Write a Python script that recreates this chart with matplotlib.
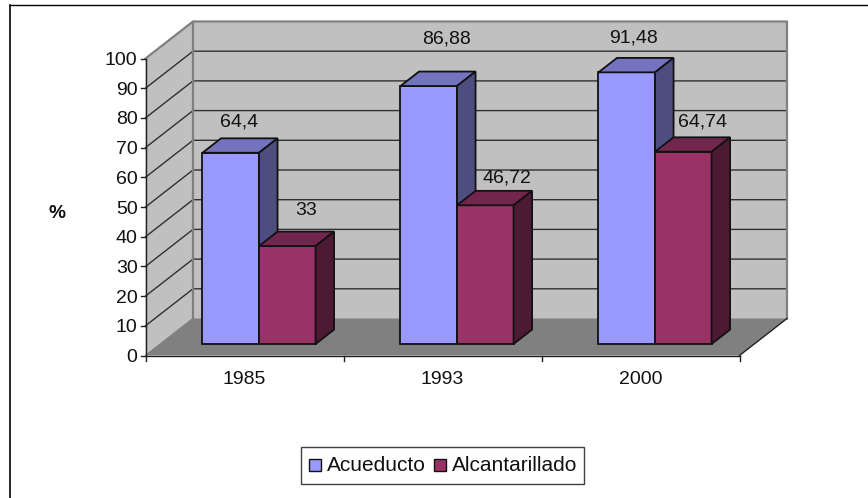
import numpy as np
import matplotlib
matplotlib.use('Agg')
import matplotlib.pyplot as plt
from matplotlib.patches import Polygon, Rectangle
from matplotlib.lines import Line2D

years = ['1985', '1993', '2000']
acueducto = [64.4, 86.88, 91.48]
alcantarillado = [33, 46.72, 64.74]
acueducto_labels = ['64,4', '86,88', '91,48']
alcantarillado_labels = ['33', '46,72', '64,74']
y_ticks = [0, 10, 20, 30, 40, 50, 60, 70, 80, 90, 100]

W, H = 868, 498
BLUE, BLUE_TOP, BLUE_SIDE = '#9999ff', '#7373bf', '#4d4d80'
RED, RED_TOP, RED_SIDE = '#993366', '#73264d', '#4d1a33'

plt.rcParams['font.family'] = ['Liberation Sans', 'DejaVu Sans']

fig = plt.figure(figsize=(W / 100, H / 100), dpi=100)
# axes = front plane of the fake 3d box
left, right, bottom, top = 145.5, 739.5, 355.5, 58.5
ax = fig.add_axes([left / W, 1 - bottom / H, (right - left) / W, (bottom - top) / H])
ax.set_xlim(0, 3)
ax.set_ylim(0, 100)
ax.axis('off')

px_x = (right - left) / 3
px_y = (bottom - top) / 100
# depth offsets, data units
DX = 47.5 / px_x
DY = 37 / px_y
bar_d0 = 0.31
bar_d1 = 0.70
bar_w = 0.2855
start = 0.2135


def pt(x, y, d=0.0):
    return (x + DX * d, y + DY * d)


def poly(pts, fc, ec='none', lw=0, z=1):
    ax.add_patch(Polygon(pts, closed=True, fc=fc, ec=ec, lw=lw, zorder=z, clip_on=False, joinstyle='miter'))


# walls and floor
poly([pt(0, 0, 1), pt(3, 0, 1), pt(3, 100, 1), pt(0, 100, 1)], '#c0c0c0', z=1)
poly([pt(0, 0), pt(0, 100), pt(0, 100, 1), pt(0, 0, 1)], '#c0c0c0', z=1)
poly([pt(0, 0), pt(3, 0), pt(3, 0, 1), pt(0, 0, 1)], '#808080', z=1)

for t in y_ticks[1:-1]:
    ax.plot(*zip(pt(0, t), pt(0, t, 1), pt(3, t, 1)), color='#303030', lw=1.0, zorder=2, clip_on=False)
# box outline
ax.plot(*zip(pt(0, 100), pt(0, 100, 1), pt(3, 100, 1), pt(3, 0, 1)), color='#808080', lw=1.6, zorder=2, clip_on=False)
ax.plot(*zip(pt(0, 0, 1), pt(0, 100, 1)), color='#808080', lw=1.6, zorder=2, clip_on=False)
ax.plot(*zip(pt(0, 0), pt(0, 0, 1)), color='#808080', lw=1.0, zorder=2, clip_on=False)
ax.plot(*zip(pt(3, 0), pt(3, 0, 1)), color='#202020', lw=1.0, zorder=2, clip_on=False)

# axis lines and ticks
ax.plot([0, 0], [0, 100], color='#202020', lw=1.0, zorder=6, clip_on=False)
ax.plot([0, 3], [0, 0], color='#202020', lw=1.0, zorder=6, clip_on=False)
tick_y = 5 / px_y
tick_x = 5 / px_x
for t in y_ticks:
    ax.plot([-tick_x, 0], [t, t], color='#202020', lw=1.0, zorder=6, clip_on=False)
    ax.text(-8 / px_x, t, str(t), ha='right', va='center_baseline', fontsize=14, color='#111111')
for i in range(4):
    ax.plot([i, i], [0, -tick_y], color='#202020', lw=1.0, zorder=6, clip_on=False)
for i, y in enumerate(years):
    ax.text(i + 0.5, -22 / px_y, y, ha='center', va='center_baseline', fontsize=14, color='#111111')

ax.text((57 - left) / px_x, (bottom - 211) / px_y, '%', ha='center', va='center_baseline', fontsize=13.8,
        fontweight='bold', color='#111111')


def draw_bar(x, v, fc, fc_top, fc_side, z):
    y0 = pt(0, 0, bar_d0)[1]
    xf = x + DX * bar_d0
    h = v
    w = bar_w
    dd = bar_d1 - bar_d0
    ddx, ddy = DX * dd, DY * dd
    ax.bar(xf, h, width=w, bottom=y0, align='edge', fc=fc, ec='#111111', lw=1.3, zorder=z, clip_on=False)
    poly([(xf, y0 + h), (xf + w, y0 + h), (xf + w + ddx, y0 + h + ddy), (xf + ddx, y0 + h + ddy)],
         fc_top, '#111111', 1.3, z)
    poly([(xf + w, y0), (xf + w + ddx, y0 + ddy), (xf + w + ddx, y0 + h + ddy), (xf + w, y0 + h)],
         fc_side, '#111111', 1.3, z)
    return xf, y0 + h


# label offsets from the bar's front top-left corner, pixels
off_acu = [(37, 33), (46, 49), (35, 36)]
off_alc = [(47, 38), (50, 29), (47, 32)]

for i in range(len(years)):
    x1 = i + start
    x2 = x1 + bar_w
    xa, ya = draw_bar(x1, acueducto[i], BLUE, BLUE_TOP, BLUE_SIDE, 3)
    xb, yb = draw_bar(x2, alcantarillado[i], RED, RED_TOP, RED_SIDE, 4)
    ax.text(xa + off_acu[i][0] / px_x, ya + off_acu[i][1] / px_y, acueducto_labels[i], ha='center',
            va='center_baseline', fontsize=14, color='#111111', zorder=7)
    ax.text(xb + off_alc[i][0] / px_x, yb + off_alc[i][1] / px_y, alcantarillado_labels[i], ha='center',
            va='center_baseline', fontsize=14, color='#111111', zorder=7)

# outer frame and legend, figure pixels
ov = fig.add_axes([0, 0, 1, 1], zorder=5)
ov.set_xlim(0, W)
ov.set_ylim(H, 0)
ov.axis('off')
ov.patch.set_alpha(0)
ov.add_line(Line2D([10, W], [4.5, 4.5], color='black', lw=1.0))
ov.add_line(Line2D([10, 10], [4.5, H], color='black', lw=1.2))

ov.add_patch(Rectangle((301, 447), 283, 36.5, fc='white', ec='#404040', lw=1.0))
ov.add_patch(Rectangle((308.5, 458.5), 12, 12, fc=BLUE, ec='#111111', lw=1.0))
ov.add_patch(Rectangle((434, 458.5), 12, 12, fc=RED, ec='#111111', lw=1.0))
ov.text(326.5, 463.5, 'Acueducto', ha='left', va='center_baseline', fontsize=15, color='#111111')
ov.text(452, 463.5, 'Alcantarillado', ha='left', va='center_baseline', fontsize=15, color='#111111')

fig.savefig('out.png', dpi=100)
